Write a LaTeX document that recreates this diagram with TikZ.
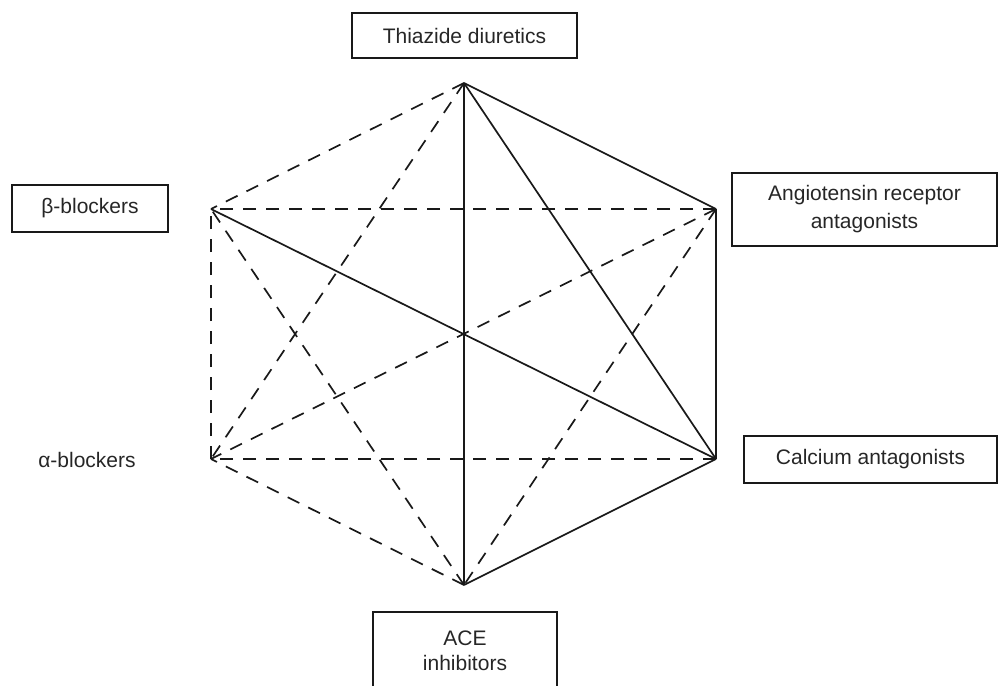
\documentclass[tikz,border=0pt]{standalone}
\usepackage{fontspec}
\setmainfont{Liberation Sans}
\begin{document}
\begin{tikzpicture}[x=1pt,y=-1pt,
  labelbox/.style={draw=black!90, line width=1.6pt, align=center, inner sep=0pt, text=black!85, font=\fontsize{21}{28}\selectfont},
  plain/.style={align=center, inner sep=0pt, text=black!85, font=\fontsize{21}{28}\selectfont},
  solidline/.style={draw=black!90, line width=1.7pt},
  dashline/.style={draw=black!90, line width=1.7pt, dash pattern=on 13pt off 10pt}]
\useasboundingbox (0,0) rectangle (998,685);
% vertices
\coordinate (T) at (464,83);
\coordinate (R) at (716,209);
\coordinate (C) at (716,459);
\coordinate (E) at (464,585);
\coordinate (A) at (211,459);
\coordinate (B) at (211,209);
% labels
\node[labelbox, minimum width=225pt, minimum height=45pt] (thz) at (464.5,35.5) {Thiazide diuretics};
\node[labelbox, minimum width=156pt, minimum height=47pt] (bb) at (90,208.5) {β-blockers};
\node[labelbox, minimum width=265pt, minimum height=73pt] (ara) at (864.5,209.5) {Angiotensin receptor\\antagonists};
\node[labelbox, minimum width=253pt, minimum height=47pt] (ca) at (870.5,459.5) {Calcium antagonists};
\node[labelbox, minimum width=184pt, minimum height=77pt, font=\fontsize{21}{25}\selectfont] (ace) at (465,650.5) {ACE\\inhibitors};
\node[plain] (ab) at (87,460) {α-blockers};
% solid connections
\draw[solidline] (T) -- (R);
\draw[solidline] (T) -- (C);
\draw[solidline] (T) -- (E);
\draw[solidline] (R) -- (C);
\draw[solidline] (C) -- (E);
\draw[solidline] (C) -- (B);
% dashed connections
\draw[dashline] (T) -- (A);
\draw[dashline] (T) -- (B);
\draw[dashline] (R) -- (E);
\draw[dashline] (R) -- (A);
\draw[dashline] (R) -- (B);
\draw[dashline] (C) -- (A);
\draw[dashline] (E) -- (A);
\draw[dashline] (E) -- (B);
\draw[dashline] (A) -- (B);
\end{tikzpicture}
\end{document}
